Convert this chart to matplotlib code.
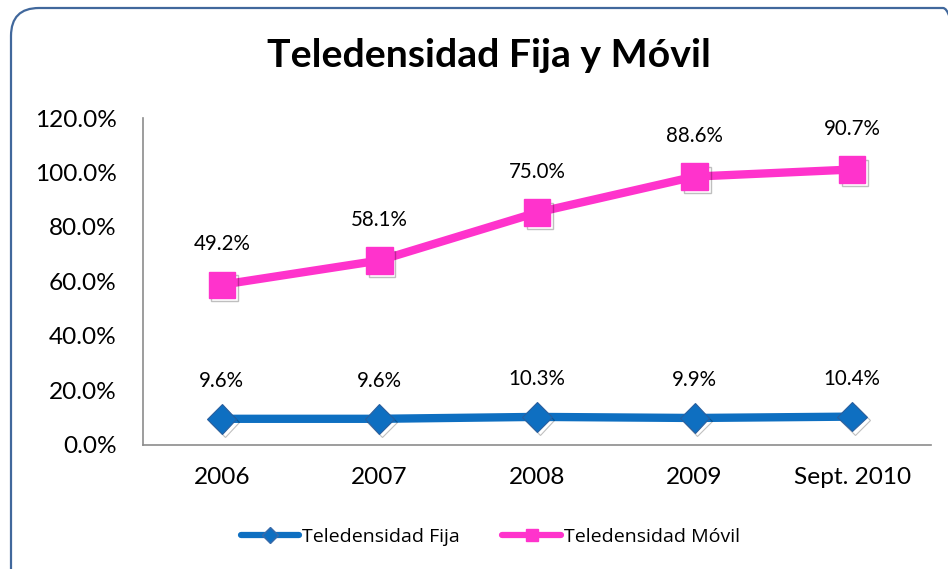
import matplotlib.pyplot as plt
import matplotlib.patheffects as pe
from matplotlib.patches import FancyBboxPatch
from matplotlib.lines import Line2D
from matplotlib.ticker import FuncFormatter

years = ['2006', '2007', '2008', '2009', 'Sept. 2010']
fija = [9.6, 9.6, 10.3, 9.9, 10.4]
movil = [49.2, 58.1, 75.0, 88.6, 90.7]
yticks = [0, 20, 40, 60, 80, 100, 120]

BLUE = '#0e6fc1'
PINK = '#ff33cc'

plt.rcParams['font.family'] = ['Lato', 'DejaVu Sans']

fig = plt.figure(figsize=(9.48, 5.69), dpi=100)
ax = fig.add_axes([0.1508, 0.218, 0.8312, 0.5746])

# stacked line chart: movil drawn on top of fija
stacked = [f + m for f, m in zip(fija, movil)]
x = list(range(len(years)))

shadow = [pe.SimpleLineShadow(offset=(2, -2.5), alpha=0.25), pe.Normal()]
ax.plot(x, fija, color=BLUE, lw=6, solid_capstyle='round')
ax.plot(x, fija, ls='none', marker='D', ms=15, mfc=BLUE, mec='#2a5f9e', mew=0.8,
        path_effects=shadow)
ax.plot(x, stacked, color=PINK, lw=6, solid_capstyle='round')
ax.plot(x, stacked, ls='none', marker='s', ms=19, mfc=PINK, mec=PINK,
        path_effects=shadow)

for xi, yv, lab in zip(x, fija, fija):
    ax.annotate(f'{lab:.1f}%', (xi, yv), xytext=(0, 27), textcoords='offset points',
                ha='center', va='center', fontsize=14.8)
for xi, yv, lab in zip(x, stacked, movil):
    ax.annotate(f'{lab:.1f}%', (xi, yv), xytext=(0, 29), textcoords='offset points',
                ha='center', va='center', fontsize=14.8)

ax.set_xlim(-0.5, len(years) - 0.5)
ax.set_ylim(0, 120)
ax.set_yticks(yticks)
ax.yaxis.set_major_formatter(FuncFormatter(lambda v, p: f'{v:.1f}%'))
ax.set_xticks(x)
ax.set_xticklabels(years)
ax.tick_params(axis='both', length=0, labelsize=17.6)
ax.tick_params(axis='y', pad=19)
ax.tick_params(axis='x', pad=16)
for s in ['top', 'right']:
    ax.spines[s].set_visible(False)
for s in ['left', 'bottom']:
    ax.spines[s].set_color('#8c8c8c')
    ax.spines[s].set_linewidth(1.2)

fig.text(0.516, 0.903, 'Teledensidad Fija y Móvil', ha='center', va='center',
         fontsize=28.3, fontweight='bold')

handles = [
    Line2D([], [], color=BLUE, lw=4.5, solid_capstyle='round', marker='D', ms=8,
           mfc=BLUE, mec='#3a6aa8', mew=1),
    Line2D([], [], color=PINK, lw=4.5, solid_capstyle='round', marker='s', ms=9,
           mfc=PINK, mec=PINK),
]
fig.legend(handles, ['Teledensidad Fija', 'Teledensidad Móvil'], loc='center',
           bbox_to_anchor=(0.517, 0.056), ncol=2, frameon=False,
           handlelength=3.0, handletextpad=0.15, columnspacing=2.2,
           prop={'family': 'Open Sans', 'size': 14})

border = FancyBboxPatch((11, -40), 960, 601, boxstyle='round,pad=0,rounding_size=28',
                        transform=None, fill=False, ec='#41689c', lw=1.6)
fig.patches.append(border)

fig.savefig('out.png', dpi=100)
